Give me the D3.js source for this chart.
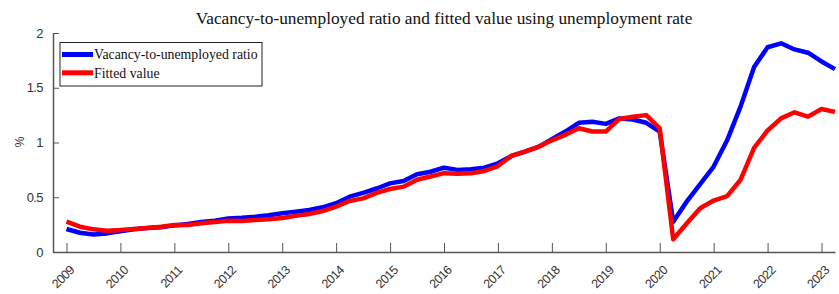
<!DOCTYPE html>
<html lang="en">
<head>
<meta charset="UTF-8">
<title>Vacancy-to-unemployed ratio</title>
<script src="https://cdn.jsdelivr.net/npm/d3@7"></script>
<style>
    body { margin: 0; background: #fff; }
    .title { font-family: "Liberation Serif", serif; font-size: 17.3px; fill: #111; }
    .legend text { font-family: "Liberation Serif", serif; font-size: 13.8px; fill: #111; }
    .tick text { font-family: "Liberation Sans", Arial, sans-serif; font-size: 12.5px; fill: #333; letter-spacing: -0.6px; }
    .axis path, .axis line { stroke: #555; }
</style>
</head>
<body>
<script>
// quarterly, 2009Q1 .. 2023Q2
var startYear = 2009;
var vuRatio = [
    0.21, 0.176, 0.16, 0.17,
    0.19, 0.207, 0.22, 0.225,
    0.243, 0.255, 0.274, 0.286,
    0.307, 0.313, 0.322, 0.335,
    0.353, 0.368, 0.383, 0.408,
    0.445, 0.505, 0.54, 0.58,
    0.627, 0.648, 0.71, 0.733,
    0.77, 0.75, 0.755, 0.77,
    0.81, 0.877, 0.916, 0.96,
    1.03, 1.10, 1.18, 1.19,
    1.17, 1.22, 1.21, 1.18,
    1.10, 0.277, 0.46, 0.62,
    0.78, 1.02, 1.33, 1.69,
    1.87, 1.906, 1.85, 1.82,
    1.74, 1.67
];
var fitted = [
    0.277, 0.231, 0.207, 0.195,
    0.20, 0.21, 0.22, 0.23,
    0.246, 0.246, 0.262, 0.274,
    0.286, 0.283, 0.292, 0.30,
    0.31, 0.33, 0.347, 0.374,
    0.414, 0.466, 0.49, 0.54,
    0.575, 0.597, 0.66, 0.69,
    0.72, 0.715, 0.72, 0.74,
    0.785, 0.877, 0.916, 0.96,
    1.02, 1.07, 1.13, 1.10,
    1.10, 1.215, 1.236, 1.25,
    1.13, 0.116, 0.26, 0.40,
    0.47, 0.51, 0.66, 0.95,
    1.11, 1.22, 1.276, 1.236,
    1.306, 1.28
];
var yearTicks = d3.range(2009, 2024);
var yTicks = [0, 0.5, 1, 1.5, 2];
var seriesNames = ["Vacancy-to-unemployed ratio", "Fitted value"];
var seriesColors = ["#0000ff", "#ff0000"];

var width = 839, height = 294;
var svg = d3.select("body").append("svg")
    .attr("width", width)
    .attr("height", height);

var x = d3.scaleLinear().domain([2008.75, 2023.25]).range([53, 835]);
var y = d3.scaleLinear().domain([0, 2]).range([252, 33]);

// x axis, ticks pointing inward
var xAxis = svg.append("g").attr("class", "axis")
    .attr("transform", "translate(0," + y(0) + ")")
    .call(d3.axisTop(x).tickValues(yearTicks).tickSize(9).tickSizeOuter(0).tickFormat(d3.format("d")));
xAxis.select(".domain").attr("stroke-width", 1.5);
xAxis.selectAll(".tick text")
    .attr("y", 0).attr("dy", "0.35em")
    .attr("text-anchor", "end")
    .attr("transform", "translate(5,16) rotate(-45)");

var yAxis = svg.append("g").attr("class", "axis")
    .attr("transform", "translate(" + x.range()[0] + ",0)")
    .call(d3.axisRight(y).tickValues(yTicks).tickSize(6).tickSizeOuter(0).tickFormat(d3.format("")));
yAxis.select(".domain").attr("stroke-width", 1.5);
yAxis.selectAll(".tick text")
    .attr("x", -10)
    .attr("text-anchor", "end")
    .style("font-size", "13px");

svg.append("text")
    .attr("transform", "translate(24,142) rotate(-90)")
    .attr("text-anchor", "middle")
    .style("font-family", "Liberation Sans, Arial, sans-serif")
    .style("font-size", "12px")
    .style("fill", "#333")
    .text("%");

var line = d3.line()
    .x(function (d, i) { return x(startYear + i / 4); })
    .y(function (d) { return y(d); });

[vuRatio, fitted].forEach(function (s, k) {
    svg.append("path")
        .datum(s)
        .attr("fill", "none")
        .attr("stroke", seriesColors[k])
        .attr("stroke-width", 4.5)
        .attr("stroke-linejoin", "round")
        .attr("d", line);
});

svg.append("text")
    .attr("class", "title")
    .attr("x", 444)
    .attr("y", 24)
    .attr("text-anchor", "middle")
    .text("Vacancy-to-unemployed ratio and fitted value using unemployment rate");

// legend
var legend = svg.append("g").attr("class", "legend");
legend.append("rect")
    .attr("x", 60).attr("y", 42.5)
    .attr("width", 202).attr("height", 43.5)
    .attr("fill", "#fff").attr("stroke", "#222").attr("stroke-width", 1);
seriesNames.forEach(function (name, k) {
    var ly = 54.5 + k * 18.3;
    legend.append("line")
        .attr("x1", 62).attr("x2", 93)
        .attr("y1", ly).attr("y2", ly)
        .attr("stroke", seriesColors[k]).attr("stroke-width", 5);
    legend.append("text")
        .attr("x", 94).attr("y", ly).attr("dy", "0.35em")
        .text(name);
});
</script>
</body>
</html>
